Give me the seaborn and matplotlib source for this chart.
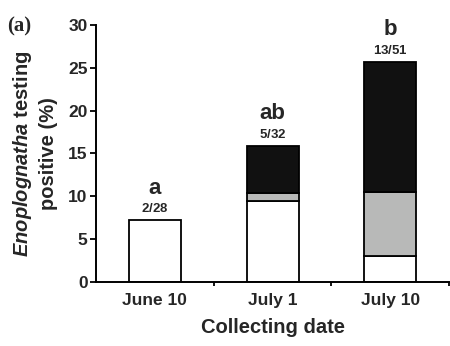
import matplotlib
matplotlib.use("Agg")
import matplotlib.pyplot as plt
import seaborn as sns
import pandas as pd
import numpy as np

dates = ["June 10", "July 1", "July 10"]
white_vals = [7.2, 9.5, 3.0]
gray_vals = [0.0, 0.9, 7.45]
black_vals = [0.0, 5.5, 15.25]
letters = ["a", "ab", "b"]
frac_pos = ["2/", "5/", "13/"]
frac_tot = ["28", "32", "51"]
yticks = [0, 5, 10, 15, 20, 25, 30]

sns.set_theme(style="ticks")
plt.rcParams['font.family'] = ['Liberation Sans', 'DejaVu Sans']
plt.rcParams['mathtext.fontset'] = 'custom'
plt.rcParams['mathtext.it'] = 'Liberation Sans:italic:bold'
plt.rcParams['mathtext.rm'] = 'Liberation Sans:bold'
plt.rcParams['mathtext.bf'] = 'Liberation Sans:bold'

fig = plt.figure(figsize=(4.5, 3.46), dpi=100)
ax = fig.add_axes([0.2133, 0.185, 0.785, 0.743])

df = pd.DataFrame({"date": dates, "white": white_vals, "gray": gray_vals, "black": black_vals})
df["b_gray"] = df["white"]
df["b_black"] = df["white"] + df["gray"]
df["total"] = df["b_black"] + df["black"]

common = dict(edgecolor="black", linewidth=1.3, width=0.44, ax=ax, saturation=1)
sns.barplot(data=df, x="date", y="white", color="white", **common)
g = df[df["gray"] > 0]
sns.barplot(data=g, x="date", y="gray", bottom=g["b_gray"].values,
            color="#b8b9b8", order=dates, **common)
k = df[df["black"] > 0]
sns.barplot(data=k, x="date", y="black", bottom=k["b_black"].values,
            color="#111111", order=dates, **common)

ax.set_xlim(-0.5, 2.5)
ax.set_ylim(0, 30)
ax.set_yticks(yticks)
ax.set_yticklabels([str(t) for t in yticks], fontsize=12.5, fontweight="bold")
ax.set_xticks(range(len(dates)))
ax.set_xticklabels(dates, fontsize=12.5, fontweight="bold")
ax.tick_params(axis="x", which="major", length=0, pad=8)
ax.set_xticks([0.5, 1.5, 2.5], minor=True)
ax.tick_params(axis="x", which="minor", length=3, width=1.3, direction="out", color="black")
ax.tick_params(axis="y", length=4, width=1.3, direction="out", color="black", pad=2)
for s in ["top", "right"]:
    ax.spines[s].set_visible(False)
for s in ["left", "bottom"]:
    ax.spines[s].set_linewidth(1.4)
    ax.spines[s].set_color("black")

ax.set_xlabel("Collecting date", fontsize=14.5, fontweight="bold", labelpad=7)
ax.set_ylabel("$\\mathit{Enoplognatha}$ testing\npositive (%)", fontsize=14.5, fontweight="bold",
              labelpad=7, linespacing=1.35)

for i in range(len(dates)):
    top = df["total"][i]
    ax.text(i, top + 0.6, "$\\mathit{" + frac_pos[i] + "}$" + frac_tot[i], ha="center", va="bottom",
            fontsize=9.5, fontweight="bold")
    ax.text(i, top + 3.1, letters[i], ha="center", va="baseline", fontsize=16, fontweight="bold")

fig.text(0.016, 0.91, "(a)", fontsize=15, fontweight="bold", family="Liberation Serif")

fig.savefig("out.png", dpi=100)
